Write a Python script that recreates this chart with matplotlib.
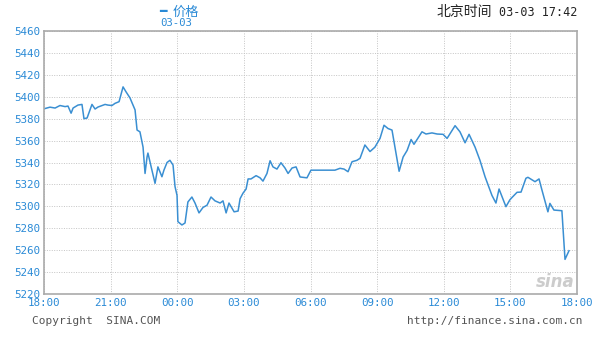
import matplotlib.pyplot as plt
import numpy as np

# hours after 18:00 (03-02) and price
hours = [0.0, 0.27, 0.5, 0.72, 0.95, 1.08, 1.22, 1.31, 1.53, 1.71, 1.8, 1.94,
         2.16, 2.3, 2.43, 2.75, 2.88, 3.06, 3.2, 3.38, 3.56, 3.69, 3.87, 4.1,
         4.19, 4.32, 4.46, 4.55, 4.64, 4.68, 4.77, 4.86, 5.0, 5.13, 5.31, 5.4,
         5.54, 5.67, 5.81, 5.9, 5.99, 6.03, 6.21, 6.35, 6.48, 6.66, 6.8, 6.98,
         7.16, 7.34, 7.52, 7.7, 7.93, 8.06, 8.2, 8.33, 8.56, 8.74, 8.83, 8.96,
         9.1, 9.19, 9.32, 9.55, 9.73, 9.86, 10.04, 10.18, 10.31, 10.49, 10.67,
         10.85, 10.99, 11.17, 11.35, 11.53, 11.84, 12.02, 12.43, 13.1, 13.33,
         13.51, 13.69, 13.87, 14.09, 14.23, 14.45, 14.68, 14.9, 15.13, 15.31,
         15.49, 15.67, 15.99, 16.17, 16.35, 16.53, 16.66, 17.02, 17.2, 17.47,
         17.7, 17.97, 18.15, 18.51, 18.73, 18.96, 19.14, 19.41, 19.63, 19.86,
         20.17, 20.35, 20.49, 20.8, 20.98, 21.07, 21.3, 21.48, 21.7, 21.79,
         22.11, 22.29, 22.42, 22.69, 22.78, 22.96, 23.32, 23.46, 23.64]
price = [5389, 5390.5, 5389.7, 5392, 5391, 5391.5, 5385, 5389.7, 5392.4, 5393,
         5380, 5380.6, 5393, 5388.8, 5390.6, 5393, 5392.4, 5392, 5394, 5395.5,
         5409, 5404.6, 5399, 5388, 5369.6, 5368, 5354, 5330, 5345, 5348.6,
         5340.7, 5333, 5321, 5336, 5327, 5333, 5340, 5342, 5337.7, 5318, 5310,
         5286, 5283, 5284.8, 5304, 5308.5, 5303, 5294, 5299, 5301, 5308.5, 5305,
         5303, 5305, 5294, 5303, 5295, 5295.7, 5307, 5312, 5315.8, 5325, 5325,
         5328, 5326, 5323, 5330, 5341.6, 5336, 5334, 5339.8, 5335, 5330, 5335,
         5336, 5326.8, 5326, 5333, 5333, 5333, 5334.7, 5334, 5331.6, 5340.7,
         5342, 5343.8, 5356, 5350, 5354, 5362, 5374, 5371, 5369.6, 5332, 5345,
         5351, 5361, 5356.6, 5368, 5366, 5367, 5366, 5365.7, 5362, 5373.6, 5368,
         5358, 5365.7, 5354, 5342, 5327, 5310, 5303, 5315.8, 5299.7, 5306, 5308,
         5312.8, 5313, 5325.6, 5326.5, 5322.5, 5325, 5315, 5295, 5302.7, 5296.6,
         5296, 5251.6, 5259.5]

xtick_labels = ['18:00', '21:00', '00:00', '03:00', '06:00', '09:00', '12:00', '15:00', '18:00']
yticks = np.arange(5220, 5461, 20)

blue = '#2a8ad6'
mono = 'DejaVu Sans Mono'
cjk = ['Noto Sans CJK SC', 'DejaVu Sans']

fig = plt.figure(figsize=(5.96, 3.40), dpi=100)
ax = fig.add_axes([44/596, 46/340, 533/596, 263/340])

ax.plot(hours, price, color='#3a8fd2', lw=1.1)

ax.set_xlim(0, 24)
ax.set_ylim(5220, 5460)
ax.set_xticks(np.arange(0, 25, 3))
ax.set_xticklabels(xtick_labels, family=mono, fontsize=7.8, color=blue)
ax.set_yticks(yticks)
ax.set_yticklabels([str(v) for v in yticks], family=mono, fontsize=7.8, color=blue)
ax.tick_params(length=0, pad=3)
ax.grid(True, color='#c4c4c4', linestyle=(0, (1, 1.5)), lw=0.7)
for s in ax.spines.values():
    s.set_color('#aaaaaa')
    s.set_linewidth(1.2)

# sina watermark
ax.text(0.995, 0.01, 'sina', transform=ax.transAxes, ha='right', va='bottom',
        fontsize=12, fontweight='bold', style='italic', color='#cccccc')

# header
fig.text(159/596, 1 - 12/340, '\u2501', color=blue, fontsize=9, va='center', family='DejaVu Sans')
fig.text(173/596, 1 - 12/340, '价格', color=blue, fontsize=9.5, va='center', family=cjk)
fig.text(160/596, 1 - 23/340, '03-03', color=blue, fontsize=7.7, va='center', family=mono)
fig.text(492/596, 1 - 12/340, '北京时间', color='#222222', fontsize=10, va='center',
         ha='right', family=cjk)
fig.text(577/596, 1 - 12/340, '03-03 17:42', color='#222222', fontsize=8.5, va='center',
         ha='right', family=mono)

# footer
fig.text(32/596, 1 - 321/340, 'Copyright  SINA.COM', color='#555555', fontsize=8,
         va='center', family=mono)
fig.text(582/596, 1 - 321/340, 'http://finance.sina.com.cn', color='#555555', fontsize=8,
         va='center', ha='right', family=mono)

fig.savefig('out.png', dpi=100)
